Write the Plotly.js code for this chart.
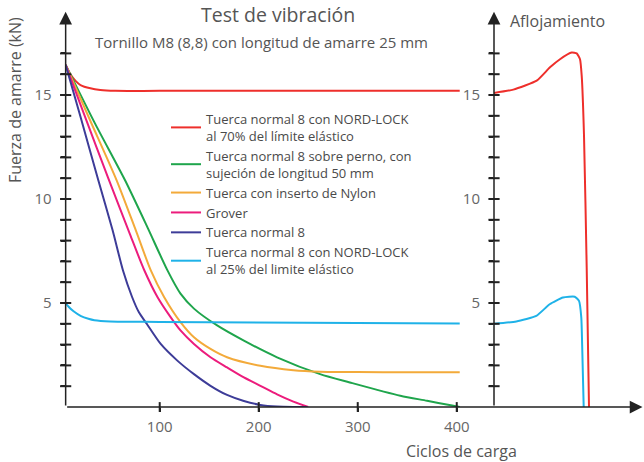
<!DOCTYPE html>
<html>
<head>
<meta charset="utf-8">
<script src="https://cdn.plot.ly/plotly-3.0.1.min.js"></script>
<style>html,body{margin:0;padding:0;background:#fff}#chart{width:644px;height:462px}</style>
</head>
<body>
<div id="chart"></div>
<script>
// ---- data ----
const seriesNames = [
  "Tuerca normal 8 con NORD-LOCK<br>al 70% del límite elástico",
  "Tuerca normal 8 sobre perno, con<br>sujeción de longitud 50 mm",
  "Tuerca con inserto de Nylon",
  "Grover",
  "Tuerca normal 8",
  "Tuerca normal 8 con NORD-LOCK<br>al 25% del limite elástico"
];
const seriesColors = ["#ee2f2b", "#1fa54c", "#f3aa3a", "#ec1c7c", "#3d3c98", "#1fb2e8"];

// left panel: load cycles vs clamp force (kN)
const redX = [5, 10, 15, 20, 30, 40, 55, 100, 403];
const redY = [16.45, 15.98, 15.68, 15.48, 15.32, 15.24, 15.2, 15.2, 15.2];
const greenX = [5, 35, 65, 88, 107.7, 121, 134.6, 158, 185, 218.5, 262, 292, 343, 370, 394, 403];
const greenY = [16.45, 13.6, 10.9, 8.6, 6.58, 5.45, 4.73, 3.92, 3.19, 2.39, 1.58, 1.18, 0.54, 0.3, 0.08, 0.0];
const orangeX = [5, 30, 56.5, 75.8, 90.9, 104.4, 121, 134.6, 151.3, 168, 201.7, 235, 262, 300, 350, 403];
const orangeY = [16.45, 13.75, 10.9, 8.5, 6.58, 5.29, 4.08, 3.35, 2.79, 2.39, 1.98, 1.77, 1.7, 1.68, 1.67, 1.67];
const pinkX = [5, 25, 48, 70, 84.2, 97.7, 111, 121, 134.6, 151.3, 168, 185, 201.7, 218.5, 235, 250];
const pinkY = [16.45, 13.9, 11.0, 8.3, 6.6, 5.29, 4.32, 3.68, 3.03, 2.39, 1.9, 1.42, 1.02, 0.61, 0.26, 0];
const purpleX = [5, 20, 38, 52.3, 63, 72, 79, 86.9, 101, 117.8, 134.6, 151.3, 168, 185, 201.7, 218.5, 235, 249];
const purpleY = [16.45, 13.95, 10.9, 8.52, 6.55, 5.3, 4.55, 4.0, 3.03, 2.23, 1.58, 1.02, 0.58, 0.29, 0.1, 0.02, 0, 0];
const cyanX = [5, 8, 13, 20.5, 28, 34, 50, 100, 403];
const cyanY = [5.0, 4.82, 4.6, 4.37, 4.24, 4.17, 4.11, 4.09, 4.02];

// right panel: "Aflojamiento" (no scale on x)
const looseRedX = [0, 19.3, 42.7, 56, 66, 77.7, 82.7, 86, 87.7, 90, 92.7, 95];
const looseRedY = [15.1, 15.26, 15.69, 16.33, 16.72, 17.04, 17.0, 16.72, 15.93, 13.06, 6.69, 0];
const looseCyanX = [0, 22.3, 42.3, 55.7, 69, 80.7, 85, 87.3, 88.3, 89.7];
const looseCyanY = [4.0, 4.11, 4.38, 4.94, 5.26, 5.3, 5.1, 4.3, 2.7, 0];

const xTickVals = [100, 200, 300, 400];
const yTickVals = [1,2,3,4,5,6,7,8,9,10,11,12,13,14,15,16,17];
const yTickText = ["","","","","5","","","","","10","","","","","15","",""];

const leftX = [redX, greenX, orangeX, pinkX, purpleX, cyanX];
const leftY = [redY, greenY, orangeY, pinkY, purpleY, cyanY];

// ---- build ----
const W = 644, H = 462;
const X0 = 5, X1 = 415, Y1 = 19, R1 = 150;
const axisColor = "#222";
const traces = [];
for (let i = 0; i < 6; i++) {
  traces.push({
    x: leftX[i], y: leftY[i], type: "scatter", mode: "lines",
    name: seriesNames[i], xaxis: "x", yaxis: "y",
    line: {color: seriesColors[i], width: 2, shape: "spline", smoothing: 0.7},
    hoverinfo: "skip"
  });
}
traces.push({x: looseRedX, y: looseRedY, type: "scatter", mode: "lines", xaxis: "x2", yaxis: "y2",
  showlegend: false, line: {color: seriesColors[0], width: 2, shape: "spline", smoothing: 0.5}});
traces.push({x: looseCyanX, y: looseCyanY, type: "scatter", mode: "lines", xaxis: "x2", yaxis: "y2",
  showlegend: false, line: {color: seriesColors[5], width: 2, shape: "spline", smoothing: 0.5}});

// inner half of the crossing tick marks (built from the tick arrays)
const tickMarker = (sym, size) => ({symbol: sym, size: size, color: axisColor, line: {color: axisColor, width: 2}});
traces.push({x: yTickVals.map(() => X0), y: yTickVals, xaxis: "x", yaxis: "y", type: "scatter", mode: "markers",
  marker: tickMarker("line-ew-open", 8), cliponaxis: false, showlegend: false, hoverinfo: "skip"});
traces.push({x: yTickVals.map(() => 0), y: yTickVals, xaxis: "x2", yaxis: "y2", type: "scatter", mode: "markers",
  marker: tickMarker("line-ew-open", 8), cliponaxis: false, showlegend: false, hoverinfo: "skip"});
traces.push({x: xTickVals, y: xTickVals.map(() => 0), xaxis: "x", yaxis: "y", type: "scatter", mode: "markers",
  marker: tickMarker("line-ns-open", 7), cliponaxis: false, showlegend: false, hoverinfo: "skip"});

const yDom = [1 - 407 / H, 1 - 11.8 / H];
const xDomL = [65.65 / W, 471.6 / W];
const xDomR = [494 / W, 1];
const tickFont = {family: "Open Sans, sans-serif", size: 15, color: "#666"};

const baseY = {
  domain: yDom, range: [0, Y1], showgrid: false, zeroline: false, showline: false,
  tickvals: yTickVals, ticktext: yTickText, ticks: "outside", ticklen: 4, tickwidth: 2, tickcolor: axisColor,
  tickfont: tickFont, ticklabelstandoff: 6, fixedrange: true
};

const arrow = {showarrow: true, arrowhead: 2, arrowsize: 1.7, arrowwidth: 1.5, arrowcolor: axisColor, text: ""};
const txt = (x, y, text, size, extra) => Object.assign({xref: "paper", yref: "paper", x: x / W, y: 1 - y / H,
  xanchor: "center", yanchor: "middle", text: text, showarrow: false, font: {size: size, color: "#555"}}, extra || {});

const layout = {
  width: W, height: H, margin: {l: 0, r: 0, t: 0, b: 0},
  paper_bgcolor: "#fff", plot_bgcolor: "rgba(0,0,0,0)",
  font: {family: "Open Sans, sans-serif", color: "#555"},
  showlegend: true,
  legend: {x: 166 / W, y: 1 - 104 / H, xanchor: "left", yanchor: "top",
    bgcolor: "rgba(0,0,0,0)", font: {size: 13, color: "#4a4a4a"}, itemwidth: 30, tracegroupgap: 0},
  xaxis: {domain: xDomL, range: [X0, X1], anchor: "y", showgrid: false, zeroline: false, showline: false,
    tickvals: xTickVals, ticks: "outside", ticklen: 4, tickwidth: 2, tickcolor: axisColor,
    tickfont: tickFont, ticklabelstandoff: 2, fixedrange: true},
  yaxis: Object.assign({anchor: "x"}, baseY),
  xaxis2: {domain: xDomR, range: [0, R1], anchor: "y2", showgrid: false, zeroline: false,
    showline: false, showticklabels: false, ticks: ""},
  yaxis2: Object.assign({anchor: "x2"}, baseY),
  annotations: [
    // axis lines with arrowheads
    Object.assign({xref: "x", yref: "y", x: X0, y: Y1, axref: "x", ayref: "y", ax: X0, ay: 0}, arrow),
    Object.assign({xref: "x2", yref: "y2", x: 0, y: Y1, axref: "x2", ayref: "y2", ax: 0, ay: 0}, arrow),
    Object.assign({xref: "x2", yref: "y2", x: 148.5, y: 0, axref: "x2", ayref: "y2", ax: -428.35, ay: 0}, arrow),
    // texts
    txt(278, 15, "Test de vibración", 19.5),
    txt(261, 42, "Tornillo M8 (8,8) con longitud de amarre 25 mm", 15),
    txt(557, 21, "Aflojamiento", 16),
    txt(461, 451, "Ciclos de carga", 16),
    txt(15, 100, "Fuerza de amarre (kN)", 16, {textangle: -90})
  ]
};

Plotly.newPlot("chart", traces, layout, {staticPlot: true, displayModeBar: false});
</script>
</body>
</html>
